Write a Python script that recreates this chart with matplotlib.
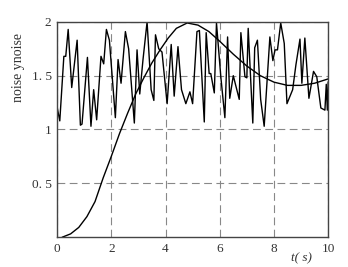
import matplotlib
matplotlib.use("Agg")
import matplotlib.pyplot as plt

# step response
step_t = [0.2, 0.5, 0.8, 1.1, 1.4, 1.7, 2.0, 2.3, 2.6, 2.9, 3.2, 3.5, 3.8, 4.1,
          4.4, 4.8, 5.2, 5.6, 6.0, 6.5, 7.0, 7.5, 8.0, 8.5, 9.0, 9.5, 10.0]
step_y = [0.0, 0.03, 0.09, 0.19, 0.33, 0.55, 0.75, 0.96, 1.15, 1.33, 1.48, 1.62,
          1.74, 1.85, 1.94, 1.99, 1.97, 1.91, 1.82, 1.70, 1.59, 1.50, 1.44, 1.41,
          1.41, 1.43, 1.47]

# noise vertices
noise_t = [0.0, 0.1, 0.25, 0.32, 0.41, 0.54, 0.74, 0.86, 0.92, 1.12, 1.25, 1.35,
           1.46, 1.62, 1.72, 1.82, 1.93, 2.15, 2.25, 2.36, 2.52, 2.64, 2.85, 2.95,
           3.05, 3.17, 3.32, 3.47, 3.57, 3.63, 3.75, 3.87, 4.06, 4.21, 4.32, 4.46,
           4.59, 4.75, 4.90, 5.0, 5.16, 5.25, 5.43, 5.50, 5.61, 5.67, 5.80, 5.88,
           6.04, 6.19, 6.29, 6.37, 6.50, 6.72, 6.78, 6.93, 7.0, 7.05, 7.22, 7.29,
           7.39, 7.51, 7.64, 7.85, 7.96, 8.04, 8.13, 8.25, 8.38, 8.48, 8.69, 8.81,
           8.96, 9.03, 9.14, 9.29, 9.46, 9.58, 9.73, 9.88, 9.93, 9.97, 10.0]
noise_y = [1.21, 1.08, 1.68, 1.68, 1.93, 1.39, 1.83, 1.04, 1.05, 1.67, 1.03, 1.37,
           1.09, 1.68, 1.61, 1.93, 1.83, 1.11, 1.65, 1.43, 1.91, 1.75, 1.06, 1.74,
           1.33, 1.65, 2.0, 1.37, 1.27, 1.88, 1.75, 1.72, 1.24, 1.79, 1.31, 1.77,
           1.37, 1.24, 1.35, 1.24, 1.91, 1.92, 1.07, 1.90, 1.52, 1.52, 1.34, 1.99,
           1.49, 1.11, 1.86, 1.29, 1.50, 1.28, 1.90, 1.49, 1.48, 1.94, 1.06, 1.76,
           1.83, 1.28, 1.03, 1.86, 1.64, 1.74, 1.74, 1.99, 1.80, 1.24, 1.37, 1.60,
           1.84, 1.43, 1.85, 1.29, 1.54, 1.49, 1.20, 1.18, 1.42, 1.18, 1.44]

x_ticks = [0, 2, 4, 6, 8, 10]
y_ticks = [0.5, 1, 1.5, 2]
y_tick_labels = ["0. 5", "1", "1. 5", "2"]

plt.rcParams['font.family'] = ['Liberation Serif', 'DejaVu Serif']

fig = plt.figure(figsize=(3.48, 2.67), dpi=100)
ax = fig.add_axes([0.164, 0.112, 0.779, 0.806])

ax.plot(noise_t, noise_y, color='black', lw=1.0)
ax.plot(step_t, step_y, color='black', lw=1.0)

ax.set_xlim(0, 10)
ax.set_ylim(0, 2)
ax.set_xticks(x_ticks)
ax.set_xticklabels([str(v) for v in x_ticks])
ax.set_yticks(y_ticks)
ax.set_yticklabels(y_tick_labels)
ax.tick_params(length=0, labelsize=9.5, colors='#333333', pad=4)
ax.grid(True, color='#888888', lw=0.8, linestyle=(0, (7, 4)))

for s in ax.spines.values():
    s.set_color('#444444')
    s.set_linewidth(1.0)

ax.set_ylabel("noise ynoise", fontsize=10, color='#333333')
ax.yaxis.set_label_coords(-0.12, 0.79)
ax.set_xlabel("t( s)", fontsize=9.5, style='italic', color='#333333', va='center')
ax.xaxis.set_label_coords(0.9, -0.1)

fig.savefig("out.png", dpi=100)
